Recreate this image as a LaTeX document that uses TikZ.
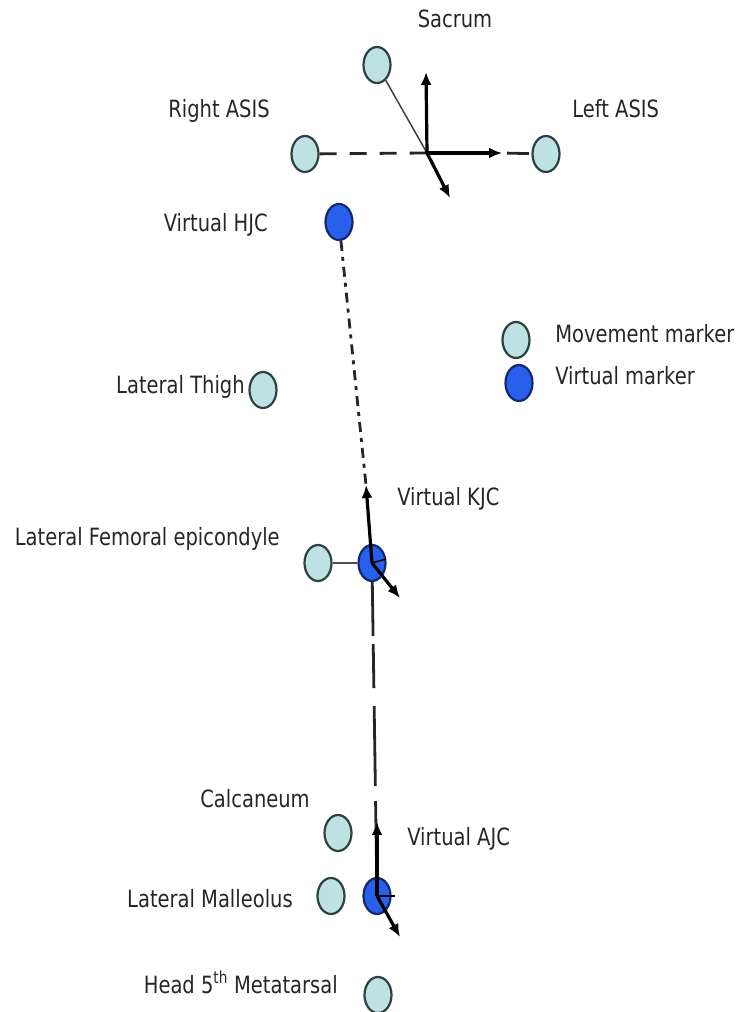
\documentclass[tikz,border=0pt]{standalone}
\usepackage{fontspec}
\setmainfont{DejaVu Sans}
\usetikzlibrary{arrows.meta,shapes.geometric}
\definecolor{mvfill}{RGB}{190,225,228}
\definecolor{mvdraw}{RGB}{45,65,65}
\definecolor{vtfill}{RGB}{40,95,235}
\definecolor{vtdraw}{RGB}{20,40,110}

\begin{document}
\begin{tikzpicture}[>={Latex[length=13pt,width=11pt]}, x=1pt, y=1pt, semithick]
	\tikzstyle{movement}=[ellipse,fill=mvfill,draw=mvdraw,line width=2.2pt,minimum width=27pt,minimum height=36pt,inner sep=0pt]
	\tikzstyle{virtual}=[movement,fill=vtfill,draw=vtdraw]
	\tikzstyle{lbl}=[font=\fontsize{19.5}{22}\selectfont,inner sep=0pt,yscale=1.22,transform shape,text=black!85]
	\tikzstyle{axis}=[->,line width=3.2pt]
	\tikzstyle{link}=[line width=2.8pt,black!85]
	\useasboundingbox (0,0) rectangle (736,1012);

	% markers
	\node[movement] (sacrum)  at (377,947) {};
	\node[movement] (rasis)   at (305,858) {};
	\node[movement] (lasis)   at (546,858) {};
	\node[virtual]  (hjc)     at (339,790) {};
	\node[movement] (thigh)   at (263,622) {};
	\node[movement] (femepi)  at (318,449) {};
	\node[virtual]  (kjc)     at (372,449) {};
	\node[movement] (calc)    at (338,179) {};
	\node[movement] (malleol) at (331,116) {};
	\node[virtual]  (ajc)     at (377,116) {};
	\node[movement] (meta)    at (378,17)  {};
	\node[movement] (legmov)  at (516,672) {};
	\node[virtual]  (legvir)  at (519,629) {};

	% pelvis frame
	\coordinate (origin) at (427,859);
	\coordinate (pytip)  at (426,940);
	\coordinate (pxtip)  at (502,859);
	\coordinate (pztip)  at (450,814);
	\draw[link,dash pattern=on 17pt off 13pt] (rasis) -- (origin);
	\draw[link,dash pattern=on 22pt off 8pt,shorten <=5pt] (pxtip) -- (lasis);
	\draw[line width=1.5pt,black!75] (sacrum) -- (origin);
	\draw[axis] (origin) -- (pytip);
	\draw[axis] (origin) -- (pxtip);
	\draw[axis] (origin) -- (pztip);

	% thigh and shank
	\coordinate (kjtip) at (366,527);
	\coordinate (kjdiag) at (400,414);
	\coordinate (ajtip) at (377,190);
	\coordinate (ajdiag) at (400,75);
	\draw[link,dash pattern=on 10pt off 6pt on 4pt off 6pt] (hjc) -- (kjtip);
	\draw[line width=2.2pt,black!70] (femepi) -- (kjc);
	\draw[axis] (kjc.center) -- (kjtip);
	\draw[axis] (kjc.center) -- (kjdiag);
	\draw[line width=1.4pt] (kjc.center) -- ++(14,4);
	\draw[link,dash pattern=on 54pt off 8pt on 44pt off 18pt on 80pt off 15pt on 200pt] (kjc) -- (ajc);
	\draw[axis] (ajc.center) -- (ajtip);
	\draw[axis] (ajc.center) -- (ajdiag);
	\draw[line width=1.4pt] (ajc.center) -- ++(18,0);

	% labels
	\node[lbl,anchor=base]      (tsacrum)  at (455,984) {Sacrum};
	\node[lbl,anchor=base east] (trasis)   at (270,894) {Right ASIS};
	\node[lbl,anchor=base west] (tlasis)   at (572,894) {Left ASIS};
	\node[lbl,anchor=base east] (thjc)     at (268,780) {Virtual HJC};
	\node[lbl,anchor=base west] (tlegmov)  at (555,669) {Movement marker};
	\node[lbl,anchor=base west] (tlegvir)  at (555,627) {Virtual marker};
	\node[lbl,anchor=base east] (tthigh)   at (245,618) {Lateral Thigh};
	\node[lbl,anchor=base west] (tkjc)     at (397,506) {Virtual KJC};
	\node[lbl,anchor=base east] (tfemepi)  at (280,466) {Lateral Femoral epicondyle};
	\node[lbl,anchor=base east] (tcalc)    at (310,204) {Calcaneum};
	\node[lbl,anchor=base west] (tajc)     at (407,166) {Virtual AJC};
	\node[lbl,anchor=base east] (tmalleol) at (293,104) {Lateral Malleolus};
	\node[lbl,anchor=base east] (tmeta)    at (338,19)  {Head 5\textsuperscript{th} Metatarsal};
\end{tikzpicture}
\end{document}
